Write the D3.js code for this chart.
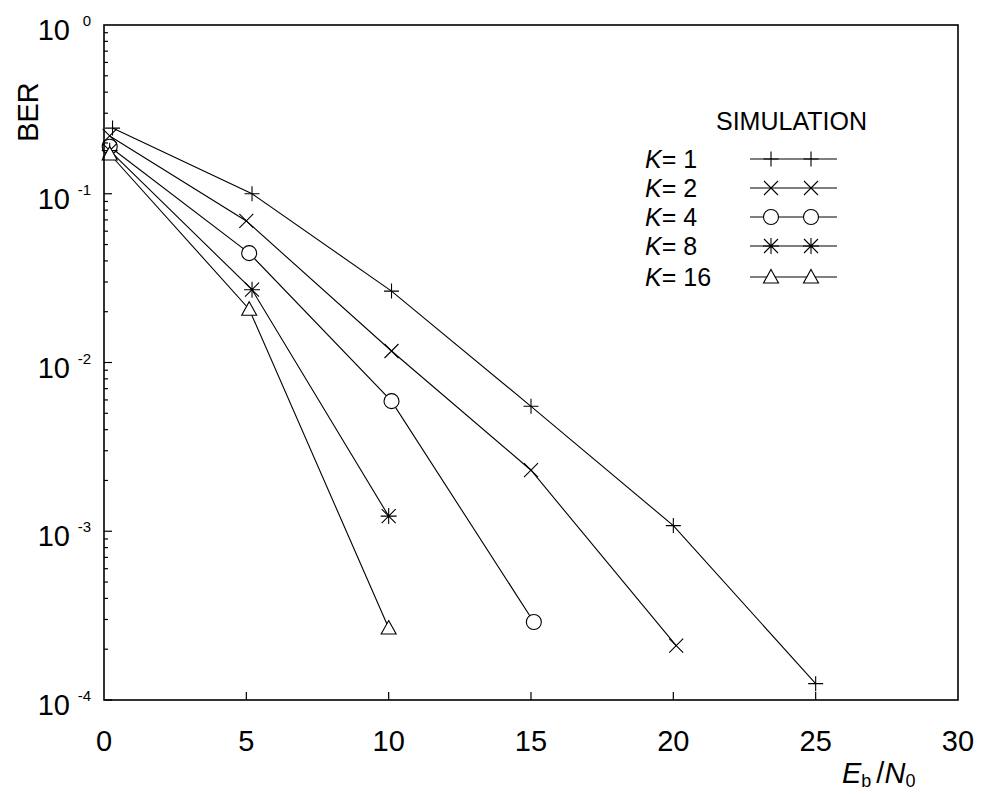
<!DOCTYPE html>
<html>
<head>
<meta charset="utf-8">
<script src="https://cdn.jsdelivr.net/npm/d3@7"></script>
<style>
  body { margin: 0; background: #fff; }
  text { font-family: "Liberation Sans", Arial, sans-serif; fill: #000; }
</style>
</head>
<body>
<script>
// data
var k1x = [0.3, 5.2, 10.1, 15.0, 20.0, 25.0];
var k1y = [0.245, 0.100, 0.0265, 0.0055, 0.00108, 0.000125];
var k2x = [0.2, 5.0, 10.1, 15.0, 20.1];
var k2y = [0.22, 0.069, 0.0117, 0.0023, 0.00021];
var k4x = [0.2, 5.1, 10.1, 15.1];
var k4y = [0.19, 0.0445, 0.0059, 0.00029];
var k8x = [0.2, 5.2, 10.0];
var k8y = [0.18, 0.027, 0.00123];
var k16x = [0.2, 5.1, 10.0];
var k16y = [0.172, 0.0207, 0.000267];

var seriesNames = ["1", "2", "4", "8", "16"];
var seriesMarks = ["plus", "cross", "circle", "star", "triangle"];
var xTicks = [0, 5, 10, 15, 20, 25, 30];
var yExps = [0, -1, -2, -3, -4];

var series = [
  { k: seriesNames[0], mark: seriesMarks[0], x: k1x, y: k1y },
  { k: seriesNames[1], mark: seriesMarks[1], x: k2x, y: k2y },
  { k: seriesNames[2], mark: seriesMarks[2], x: k4x, y: k4y },
  { k: seriesNames[3], mark: seriesMarks[3], x: k8x, y: k8y },
  { k: seriesNames[4], mark: seriesMarks[4], x: k16x, y: k16y }
];

var w = 984, h = 794;
var pLeft = 104, pRight = 958, pTop = 25, pBottom = 700;

var svg = d3.select("body").append("svg")
    .attr("width", w)
    .attr("height", h);

var xScale = d3.scaleLinear().domain([0, 30]).range([pLeft, pRight]);
var yScale = d3.scaleLog().domain([1e-4, 1]).range([pBottom, pTop]);

// marker drawing
function drawMark(g, type, cx, cy) {
  var s = 7.5;
  if (type == "plus") {
    g.append("path").attr("d", "M" + (cx - s) + "," + cy + "H" + (cx + s) + "M" + cx + "," + (cy - s) + "V" + (cy + s));
  } else if (type == "cross") {
    var c = 7;
    g.append("path").attr("d", "M" + (cx - c) + "," + (cy - c) + "L" + (cx + c) + "," + (cy + c) +
      "M" + (cx - c) + "," + (cy + c) + "L" + (cx + c) + "," + (cy - c));
  } else if (type == "circle") {
    g.append("circle").attr("cx", cx).attr("cy", cy).attr("r", 7.5).attr("fill", "#fff");
  } else if (type == "star") {
    var c = 7;
    g.append("path").attr("d", "M" + (cx - c) + "," + (cy - c) + "L" + (cx + c) + "," + (cy + c) +
      "M" + (cx - c) + "," + (cy + c) + "L" + (cx + c) + "," + (cy - c) +
      "M" + (cx - 8) + "," + cy + "H" + (cx + 8) + "M" + cx + "," + (cy - 8) + "V" + (cy + 8));
  } else if (type == "triangle") {
    g.append("path").attr("d", "M" + cx + "," + (cy - 7.5) + "L" + (cx + 7.5) + "," + (cy + 6) +
      "L" + (cx - 7.5) + "," + (cy + 6) + "Z").attr("fill", "#fff");
  }
}

var line = d3.line()
    .x(function(d) { return xScale(d[0]); })
    .y(function(d) { return yScale(d[1]); });

// lines
series.forEach(function(s) {
  var pts = s.x.map(function(v, i) { return [v, s.y[i]]; });
  svg.append("path")
     .attr("d", line(pts))
     .attr("fill", "none")
     .attr("stroke", "#000")
     .attr("stroke-width", 1.1);
});

// markers
series.forEach(function(s) {
  var g = svg.append("g").attr("stroke", "#000").attr("stroke-width", 1.1).attr("fill", "none");
  s.x.forEach(function(v, i) {
    drawMark(g, s.mark, xScale(v), yScale(s.y[i]));
  });
});

// frame
svg.append("rect")
   .attr("x", pLeft).attr("y", pTop)
   .attr("width", pRight - pLeft).attr("height", pBottom - pTop)
   .attr("fill", "none").attr("stroke", "#000").attr("stroke-width", 1.6);

// left ticks (inside)
var ticks = svg.append("g").attr("stroke", "#000").attr("stroke-width", 1.2);
for (var e = -4; e < 0; e++) {
  for (var m = 1; m < 10; m++) {
    var v = m * Math.pow(10, e);
    var len = (m == 1) ? 8 : 4;
    ticks.append("line")
         .attr("x1", pLeft).attr("x2", pLeft + len)
         .attr("y1", yScale(v)).attr("y2", yScale(v));
  }
}
// bottom ticks
xTicks.slice(1, -1).forEach(function(t) {
  ticks.append("line")
       .attr("x1", xScale(t)).attr("x2", xScale(t))
       .attr("y1", pBottom).attr("y2", pBottom - 8);
});

// y tick labels
yExps.forEach(function(e) {
  var y = yScale(Math.pow(10, e));
  svg.append("text")
     .attr("x", 70).attr("y", y + 15)
     .attr("text-anchor", "end")
     .style("font-size", "29px")
     .text("10");
  svg.append("text")
     .attr("x", 91).attr("y", y + 1)
     .attr("text-anchor", "end")
     .style("font-size", "15px")
     .text(e == 0 ? "0" : String(e));
});

// x tick labels
xTicks.forEach(function(t) {
  svg.append("text")
     .attr("x", xScale(t)).attr("y", 751)
     .attr("text-anchor", "middle")
     .style("font-size", "29px")
     .text(t);
});

// axis titles
svg.append("text")
   .attr("transform", "translate(38,112) rotate(-90)")
   .attr("text-anchor", "middle")
   .style("font-size", "29px")
   .text("BER");

var xt = svg.append("text").attr("x", 842).attr("y", 783).style("font-size", "29px");
xt.append("tspan").style("font-style", "italic").text("E");
xt.append("tspan").attr("dy", 4).style("font-size", "18px").text("b");
xt.append("tspan").attr("dy", -4).attr("dx", 5).text("/");
xt.append("tspan").style("font-style", "italic").text("N");
xt.append("tspan").attr("dy", 4).style("font-size", "18px").text("0");

// legend
svg.append("text")
   .attr("x", 716).attr("y", 130)
   .style("font-size", "25px")
   .text("SIMULATION");

var legY = [159, 188, 217, 246, 277];
series.forEach(function(s, i) {
  var y = legY[i];
  var t = svg.append("text").attr("x", 645).attr("y", y + 9).style("font-size", "25px");
  t.append("tspan").style("font-style", "italic").text("K");
  t.append("tspan").text("= " + s.k);
  svg.append("line")
     .attr("x1", 750).attr("x2", 837)
     .attr("y1", y).attr("y2", y)
     .attr("stroke", "#000").attr("stroke-width", 1.1);
  var g = svg.append("g").attr("stroke", "#000").attr("stroke-width", 1.1).attr("fill", "none");
  drawMark(g, s.mark, 771, y);
  drawMark(g, s.mark, 811, y);
});
</script>
</body>
</html>
